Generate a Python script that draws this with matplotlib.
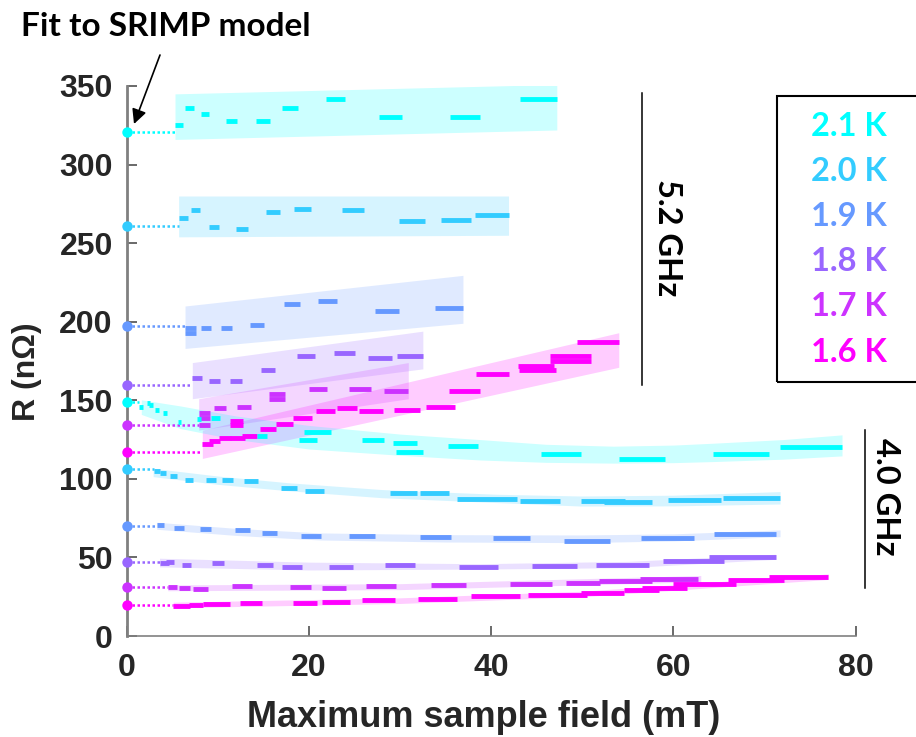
import matplotlib.pyplot as plt
from matplotlib.lines import Line2D
from matplotlib.patches import Rectangle

# temperatures and colours (cyan -> magenta)
temps = ['2.1 K', '2.0 K', '1.9 K', '1.8 K', '1.7 K', '1.6 K']
colors = ['#00ffff', '#33ccff', '#6699ff', '#9966ff', '#cc33ff', '#ff00ff']

# ---------------- 5.2 GHz ----------------
# fitted R at zero field (SRIMP model)
r0_52 = [321, 261, 197, 160, 134, 117]

f_lo_52_21 = [5.3, 6.4, 8.2, 10.9, 14.2, 17.0, 21.9, 27.7, 35.5, 43.2]
f_hi_52_21 = [6.2, 7.4, 9.0, 12.1, 15.7, 18.8, 24.0, 30.2, 38.8, 47.2]
r_52_21 = [325, 336, 332, 328, 328, 336, 342, 330, 330, 342]
band_x_52_21 = [5.3, 47.2]
band_lo_52_21 = [316, 322]
band_hi_52_21 = [345, 351]

f_lo_52_20 = [5.7, 7.1, 9.0, 12.0, 15.3, 18.4, 23.6, 29.9, 34.5, 38.2]
f_hi_52_20 = [6.7, 8.0, 10.1, 13.3, 16.8, 20.2, 26.0, 32.7, 37.8, 41.9]
r_52_20 = [266, 271, 260, 259, 270, 272, 271, 264, 265, 268]
band_x_52_20 = [5.7, 41.9]
band_lo_52_20 = [254, 255]
band_hi_52_20 = [280, 280]

f_lo_52_19 = [6.4, 6.4, 8.1, 10.3, 13.5, 17.3, 21.0, 27.3, 33.8]
f_hi_52_19 = [7.6, 7.6, 9.3, 11.6, 15.1, 19.0, 23.1, 29.9, 36.9]
r_52_19 = [193, 196, 196, 196, 198, 211, 213, 207, 209]
band_x_52_19 = [6.4, 36.9]
band_lo_52_19 = [183, 199]
band_hi_52_19 = [210, 229.5]

f_lo_52_18 = [7.2, 9.0, 11.3, 14.7, 18.7, 22.8, 26.5, 29.7]
f_hi_52_18 = [8.3, 10.2, 12.7, 16.3, 20.7, 25.1, 29.1, 32.5]
r_52_18 = [164, 162, 162, 169, 178, 180, 177, 178]
band_x_52_18 = [7.2, 32.5]
band_lo_52_18 = [151, 170]
band_hi_52_18 = [174, 194]

f_lo_52_17 = [7.9, 7.9, 7.9, 9.6, 12.1, 15.6, 15.6, 20.0, 24.4, 28.2]
f_hi_52_17 = [9.1, 9.1, 9.1, 10.9, 13.6, 17.4, 17.4, 22.0, 26.8, 30.9]
r_52_17 = [142, 139, 134, 145, 146, 154, 151, 157, 157, 156]
band_x_52_17 = [7.9, 30.9]
band_lo_52_17 = [131, 151]
band_hi_52_17 = [151, 174]

f_lo_52_16 = [8.3, 9.0, 10.1, 11.3, 12.7, 11.3, 11.3, 14.6, 16.4, 18.3, 20.8,
              23.1, 25.5, 29.3, 32.8, 35.4, 38.3, 42.9, 43.0, 46.5, 46.5, 49.4]
f_hi_52_16 = [9.5, 10.2, 11.5, 13.0, 14.3, 12.8, 12.8, 16.4, 18.2, 20.3, 22.9,
              25.3, 28.1, 32.2, 36.0, 38.8, 41.9, 46.9, 47.1, 50.9, 50.9, 54.0]
r_52_16 = [122, 124, 126, 126, 127, 137, 134, 132, 135, 139, 143,
           145, 143, 144, 146, 156, 167, 172, 169, 178, 175, 187]
band_x_52_16 = [8.3, 54.0]
band_lo_52_16 = [113, 171]
band_hi_52_16 = [131, 193]

# ---------------- 4.0 GHz ----------------
r0_40 = [149, 106, 70, 47, 31, 20]

f_lo_40_21 = [1.4, 2.2, 2.5, 3.1, 4.0, 5.6, 7.7, 9.3, 14.3, 18.9, 19.5, 25.8,
              29.2, 29.6, 35.3, 45.5, 54.0, 64.3, 71.7]
f_hi_40_21 = [1.8, 2.6, 2.9, 3.5, 4.4, 6.0, 8.2, 10.2, 15.4, 20.9, 22.4, 28.2,
              31.9, 32.5, 38.6, 49.8, 59.1, 70.5, 78.5]
r_40_21 = [146, 148, 147, 144, 142, 136, 138, 139, 127, 125, 130, 125,
           123, 117, 121, 116, 112.5, 116, 120]
band_x_40_21 = [1.6, 5.9, 12, 20, 30, 38.8, 46, 53.4, 60, 64.4, 72, 78.5]
band_lo_40_21 = [141, 132, 125, 119, 115, 112, 110.5, 110, 110.3, 111, 112.5, 114.6]
band_hi_40_21 = [150.3, 146.4, 140, 134, 128.5, 125, 122, 120.8, 121.5, 122.7, 125, 128]

f_lo_40_20 = [3.0, 3.6, 4.75, 6.4, 8.7, 10.5, 12.9, 16.9, 19.6, 28.9, 32.2,
              36.3, 43.2, 49.9, 52.4, 59.4, 65.4]
f_hi_40_20 = [3.7, 4.3, 5.55, 7.3, 9.8, 11.7, 14.4, 18.7, 21.7, 31.9, 35.4,
              42.8, 47.6, 54.7, 57.6, 65.2, 71.7]
r_40_20 = [105, 104, 102, 99, 99, 99, 98.5, 94.4, 92, 91.2, 90.8,
           87.4, 86.1, 85.9, 85.1, 86.4, 88]
band_x_40_20 = [2.9, 10, 17.6, 28, 40.6, 49.8, 60, 71.7]
band_lo_40_20 = [101.4, 96.5, 92.5, 88, 84.9, 82.7, 82.8, 84]
band_hi_40_20 = [106.7, 101.8, 97.6, 93.2, 90.2, 89.1, 89.6, 91.9]

f_lo_40_19 = [3.3, 5.2, 8.0, 11.9, 14.8, 19.1, 24.4, 32.2, 40.2, 48.0, 56.4, 64.5]
f_hi_40_19 = [4.1, 6.3, 9.2, 13.5, 16.5, 21.3, 27.2, 35.6, 44.3, 53.0, 62.3, 71.2]
r_40_19 = [70.7, 68.6, 67.9, 67.3, 65.6, 63.9, 63.5, 63, 62.2, 60.7, 62.4, 64.9]
band_x_40_19 = [3.3, 12, 21.2, 35, 49.8, 60, 71.7]
band_lo_40_19 = [67.9, 64, 61.1, 59.8, 59.4, 60.5, 63.2]
band_hi_40_19 = [72.4, 68.5, 65.6, 64.5, 64.3, 65, 67.5]

f_lo_40_18 = [3.6, 4.3, 6.1, 9.4, 14.3, 17.0, 22.2, 28.4, 36.5, 44.5, 51.5, 58.8, 63.9]
f_hi_40_18 = [4.6, 5.2, 7.1, 10.7, 16.0, 19.2, 24.8, 31.6, 40.7, 49.4, 57.3, 65.6, 71.2]
r_40_18 = [46.7, 47.1, 45.2, 46.7, 45.4, 44.1, 44.1, 45, 43.7, 44.7, 45, 47.7, 50.1]
band_x_40_18 = [3.6, 20, 38.8, 55, 71.2]
band_lo_40_18 = [44, 42, 42.6, 43.5, 48.8]
band_hi_40_18 = [49.5, 47, 46, 47.5, 52]

f_lo_40_17 = [4.5, 5.7, 7.3, 11.6, 17.9, 21.4, 26.3, 33.4, 42.1, 48.2, 51.8, 56.3]
f_hi_40_17 = [5.5, 6.9, 8.9, 13.8, 20.2, 24.1, 29.5, 37.2, 46.7, 51.9, 57.6, 62.7]
r_40_17 = [31.2, 30.4, 30.1, 31.6, 31, 30.4, 31.6, 32.5, 33.3, 33.9, 35.2, 36.5]
band_x_40_17 = [4.5, 30, 63]
band_lo_40_17 = [28.8, 29.5, 34.5]
band_hi_40_17 = [32.5, 33.3, 38.5]

f_lo_40_16 = [5.1, 6.8, 8.4, 12.4, 18.2, 21.4, 25.8, 32.0, 37.8, 44.0, 49.8,
              54.6, 56.5, 60.0, 66.0, 70.5]
f_hi_40_16 = [7.0, 8.4, 11.3, 14.9, 20.9, 24.5, 29.4, 36.3, 43.2, 50.5, 54.6,
              58.4, 61.5, 66.9, 72.1, 77.0]
r_40_16 = [19.3, 19.8, 20.4, 20.8, 21.2, 21.6, 22.7, 23.6, 25.2, 26.3, 27.6,
           29.3, 30.8, 33.1, 35.6, 37.7]
band_x_40_16 = [5.1, 30, 50, 77]
band_lo_40_16 = [18, 20.7, 25, 36]
band_hi_40_16 = [21.5, 24.3, 28.5, 39.5]

series_52 = [
    (f_lo_52_21, f_hi_52_21, r_52_21, band_x_52_21, band_lo_52_21, band_hi_52_21),
    (f_lo_52_20, f_hi_52_20, r_52_20, band_x_52_20, band_lo_52_20, band_hi_52_20),
    (f_lo_52_19, f_hi_52_19, r_52_19, band_x_52_19, band_lo_52_19, band_hi_52_19),
    (f_lo_52_18, f_hi_52_18, r_52_18, band_x_52_18, band_lo_52_18, band_hi_52_18),
    (f_lo_52_17, f_hi_52_17, r_52_17, band_x_52_17, band_lo_52_17, band_hi_52_17),
    (f_lo_52_16, f_hi_52_16, r_52_16, band_x_52_16, band_lo_52_16, band_hi_52_16),
]
series_40 = [
    (f_lo_40_21, f_hi_40_21, r_40_21, band_x_40_21, band_lo_40_21, band_hi_40_21),
    (f_lo_40_20, f_hi_40_20, r_40_20, band_x_40_20, band_lo_40_20, band_hi_40_20),
    (f_lo_40_19, f_hi_40_19, r_40_19, band_x_40_19, band_lo_40_19, band_hi_40_19),
    (f_lo_40_18, f_hi_40_18, r_40_18, band_x_40_18, band_lo_40_18, band_hi_40_18),
    (f_lo_40_17, f_hi_40_17, r_40_17, band_x_40_17, band_lo_40_17, band_hi_40_17),
    (f_lo_40_16, f_hi_40_16, r_40_16, band_x_40_16, band_lo_40_16, band_hi_40_16),
]

W, H = 916, 737


def fpos(x, y):
    # pixel position -> figure fraction
    return x / W, 1 - y / H


fig = plt.figure(figsize=(W / 100, H / 100), dpi=100)
ax = fig.add_axes([126.7 / W, 1 - 636 / H, 729 / W, 550 / H])

for group, r0s in ((series_52, r0_52), (series_40, r0_40)):
    for (lo, hi, r, bx, blo, bhi), r0, c in zip(group, r0s, colors):
        ax.fill_between(bx, blo, bhi, color=c, alpha=0.2, lw=0, zorder=1)
        ax.plot([0, lo[0]], [r0, r0], color=c, lw=1.8, ls=(0, (1, 1)), zorder=2)
        ax.hlines(r, lo, hi, color=c, lw=3.5, capstyle='butt', zorder=3)
        ax.plot([0], [r0], 'o', color=c, ms=7.5, mec='none', zorder=4, clip_on=False)

ax.set_xlim(0, 80)
ax.set_ylim(0, 350)
ax.set_xticks([0, 20, 40, 60, 80])
ax.set_yticks(range(0, 351, 50))
for s in ('top', 'right'):
    ax.spines[s].set_visible(False)
ax.spines['left'].set_color('#808080')
ax.spines['left'].set_linewidth(2)
ax.spines['bottom'].set_color('#808080')
ax.spines['bottom'].set_linewidth(1.2)
ax.tick_params(direction='in', length=7, width=1.2, color='#505050', labelcolor='#262626')
ax.tick_params(axis='x', pad=12)
ax.tick_params(axis='y', pad=10)
for lab in ax.get_xticklabels() + ax.get_yticklabels():
    lab.set_fontfamily('Liberation Sans')
    lab.set_fontweight('bold')
    lab.set_fontsize(23)

ax.set_xlabel('Maximum sample field (mT)', fontfamily='Liberation Sans',
              fontweight='bold', fontsize=26, color='#262626')
ax.set_ylabel('R (nΩ)', fontfamily='Liberation Sans', fontweight='bold',
              fontsize=23, color='#262626')
ax.xaxis.set_label_coords(0.49, -0.116)
ax.yaxis.set_label_coords(-0.116, 0.48)

# annotation for the fitted zero-field values
fig.text(*fpos(166, 27), 'Fit to SRIMP model', fontfamily='Lato', fontweight='bold',
         fontsize=24, ha='center', va='center')
ax.annotate('', xy=fpos(134, 124), xycoords='figure fraction',
            xytext=fpos(160, 55), textcoords='figure fraction',
            arrowprops=dict(arrowstyle='-|>', color='k', lw=1.2,
                            mutation_scale=22, shrinkA=0, shrinkB=0))

# frequency markers
fig.add_artist(Line2D([642.3 / W] * 2, [1 - 93 / H, 1 - 385 / H], color='k', lw=1.1))
fig.text(*fpos(668, 238), '5.2 GHz', rotation=-90, fontfamily='Lato',
         fontweight='bold', fontsize=23.5, ha='center', va='center')
fig.add_artist(Line2D([865 / W] * 2, [1 - 430 / H, 1 - 588 / H], color='k', lw=1.1))
fig.text(*fpos(886, 497), '4.0 GHz', rotation=-90, fontfamily='Lato',
         fontweight='bold', fontsize=23.5, ha='center', va='center')

# legend box with coloured labels
fig.add_artist(Rectangle(fpos(776.7, 381.7), 150 / W, (381.7 - 96) / H,
                         transform=fig.transFigure, fill=False, ec='k', lw=1.5))
for i, (t, c) in enumerate(zip(temps, colors)):
    fig.text(*fpos(849, 126 + i * 45.2), t, color=c, fontfamily='Lato',
             fontweight='bold', fontsize=23.5, ha='center', va='center')

fig.savefig('out.png', dpi=100)
